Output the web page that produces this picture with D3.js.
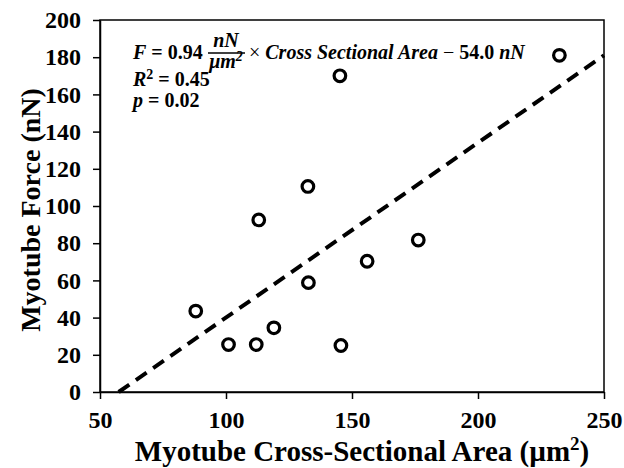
<!DOCTYPE html>
<html>
<head>
<meta charset="utf-8">
<script src="https://cdn.jsdelivr.net/npm/d3@7"></script>
<style>
	body{margin:0;background:#fff;}
	svg text{font-family:"Liberation Serif","Times New Roman",serif;font-weight:bold;fill:#000;}
</style>
</head>
<body>
<div id="chartplace"></div>
<script>
// data
var areaValues  = [88, 101, 112, 113, 119, 132.5, 132.7, 145.2, 145.6, 156, 176.3, 232.3];
var forceValues = [43.5, 25.5, 25.5, 92.5, 34.5, 110.5, 58.8, 170, 25, 70.3, 81.7, 181];
var trendArea   = [57.4, 250];   // fitted line F = 0.94*A - 54.0
var trendForce  = [0, 181];
var xTicks = [50, 100, 150, 200, 250];
var yTicks = [0, 20, 40, 60, 80, 100, 120, 140, 160, 180, 200];

var svgWidth = 624, svgHeight = 468;
var plotL = 100, plotR = 604, plotT = 20, plotB = 392;

var svg = d3.select("#chartplace").append("svg")
	.attr("width", svgWidth).attr("height", svgHeight);

var x = d3.scaleLinear().domain([50, 250]).range([plotL, plotR]);
var y = d3.scaleLinear().domain([0, 200]).range([plotB, plotT]);

// frame
svg.append("rect")
	.attr("x", plotL).attr("y", plotT)
	.attr("width", plotR - plotL).attr("height", plotB - plotT)
	.attr("fill", "none").attr("stroke", "#000").attr("stroke-width", 1.5);

var xAxis = svg.append("g")
	.attr("transform", "translate(0," + plotB + ")")
	.call(d3.axisBottom(x).tickValues(xTicks).tickSize(7).tickSizeOuter(0).tickPadding(12));
var yAxis = svg.append("g")
	.attr("transform", "translate(" + plotL + ",0)")
	.call(d3.axisLeft(y).tickValues(yTicks).tickSize(7).tickSizeOuter(0).tickPadding(12));
[xAxis, yAxis].forEach(function(a){
	a.selectAll("path").attr("stroke", "#000").attr("stroke-width", 1.5);
	a.selectAll("line").attr("stroke", "#000").attr("stroke-width", 1.5);
	a.selectAll("text").attr("font-size", 24).style("font-family", "Liberation Serif").style("font-weight", "bold").attr("fill", "#000");
});

// trend line (dashed)
var line = d3.line()
	.x(function(d){ return x(d[0]); })
	.y(function(d){ return y(d[1]); });
svg.append("path")
	.attr("d", line(d3.zip(trendArea, trendForce)))
	.attr("stroke", "#000").attr("stroke-width", 4)
	.attr("stroke-dasharray", "13,8")
	.attr("fill", "none");

// points
svg.selectAll("circle.pt")
	.data(d3.zip(areaValues, forceValues))
	.enter()
	.append("circle")
	.attr("class", "pt")
	.attr("cx", function(d){ return x(d[0]); })
	.attr("cy", function(d){ return y(d[1]); })
	.attr("r", 5.8)
	.attr("fill", "#fff").attr("stroke", "#000").attr("stroke-width", 3.2);

// axis titles
svg.append("text")
	.attr("x", 362).attr("y", 461)
	.attr("text-anchor", "middle").attr("font-size", 29)
	.html("Myotube Cross-Sectional Area (µm<tspan dy='-11' font-size='19'>2</tspan><tspan dy='11'>)</tspan>");
svg.append("text")
	.attr("transform", "translate(40,210) rotate(-90)")
	.attr("text-anchor", "middle").attr("font-size", 28)
	.text("Myotube Force  (nN)");

// equation block
var eq = svg.append("g").attr("font-size", 20);
eq.append("text").attr("x", 133).attr("y", 59)
	.html("<tspan font-style='italic'>F</tspan> = 0.94");
eq.append("text").attr("x", 226).attr("y", 47).attr("text-anchor", "middle")
	.attr("font-style", "italic").text("nN");
eq.append("line").attr("x1", 208).attr("x2", 245).attr("y1", 53).attr("y2", 53)
	.attr("stroke", "#000").attr("stroke-width", 1.3);
eq.append("text").attr("x", 226).attr("y", 68).attr("text-anchor", "middle")
	.attr("font-style", "italic")
	.html("μm<tspan dy='-7' font-size='14'>2</tspan>");
eq.append("text").attr("x", 249).attr("y", 59)
	.html("<tspan font-weight='normal'>×</tspan> <tspan font-style='italic'>Cross Sectional Area</tspan>  <tspan font-weight='normal'>−</tspan> 54.0 <tspan font-style='italic'>nN</tspan>");
eq.append("text").attr("x", 133).attr("y", 86)
	.html("<tspan font-style='italic'>R</tspan><tspan dy='-7' font-size='14'>2</tspan><tspan dy='7'> = 0.45</tspan>");
eq.append("text").attr("x", 133).attr("y", 107)
	.html("<tspan font-style='italic'>p</tspan> = 0.02");
</script>
</body>
</html>
